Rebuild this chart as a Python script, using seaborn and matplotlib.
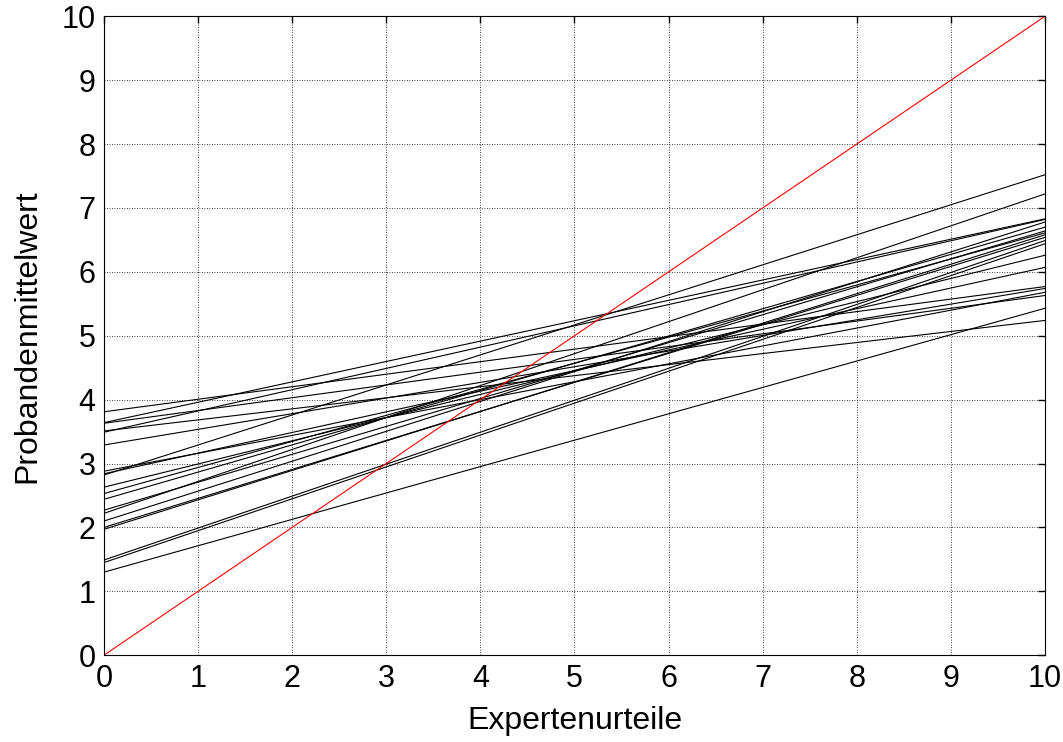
import numpy as np
import pandas as pd
import matplotlib
matplotlib.use("Agg")
import matplotlib.pyplot as plt
import seaborn as sns

# Regression lines: value at x=0 and at x=10
left_vals = [3.64, 3.49, 2.82, 3.81, 3.63, 3.51, 3.29, 2.22, 1.30, 1.45,
             1.49, 2.88, 2.84, 2.63, 2.53, 2.44, 2.27, 2.10, 2.00, 1.97]
right_vals = [6.83, 6.82, 7.52, 5.77, 5.63, 5.24, 5.74, 7.22, 5.43, 6.44,
              6.49, 5.68, 6.07, 6.26, 6.61, 6.70, 6.64, 6.78, 6.54, 6.58]
x_ends = [0, 10]
diag = [0, 10]
ticks = list(range(0, 11))

rows = []
for i, (a, b) in enumerate(zip(left_vals, right_vals)):
    rows.append({"id": i, "x": x_ends[0], "y": a})
    rows.append({"id": i, "x": x_ends[1], "y": b})
df = pd.DataFrame(rows)
df_diag = pd.DataFrame({"x": x_ends, "y": diag})

sns.set_style("white")
plt.rcParams["font.family"] = ["Liberation Sans", "DejaVu Sans"]

fig = plt.figure(figsize=(10.63, 7.42), dpi=100)
ax = fig.add_axes([0.0978, 0.117, 0.8852, 0.861])

sns.lineplot(data=df, x="x", y="y", units="id", estimator=None,
             color="black", linewidth=0.8, ax=ax, legend=False)
sns.lineplot(data=df_diag, x="x", y="y", estimator=None,
             color="red", linewidth=0.8, ax=ax, legend=False)

ax.set_xlim(0, 10)
ax.set_ylim(0, 10)
ax.set_xticks(ticks)
ax.set_yticks(ticks)
ax.grid(True, color="black", linestyle=(0, (1, 2)), linewidth=0.6)
ax.set_axisbelow(True)
for s in ax.spines.values():
    s.set_visible(True)
    s.set_color("black")
    s.set_linewidth(0.8)
ax.tick_params(direction="in", length=5, width=1.0, top=True, right=True,
               labelsize=22, pad=6, colors="black")
ax.set_xlabel("Expertenurteile", fontsize=23, labelpad=9, color="black")
ax.set_ylabel("Probandenmittelwert", fontsize=23, labelpad=14, color="black")

fig.savefig("out.png", dpi=100, facecolor="white")
